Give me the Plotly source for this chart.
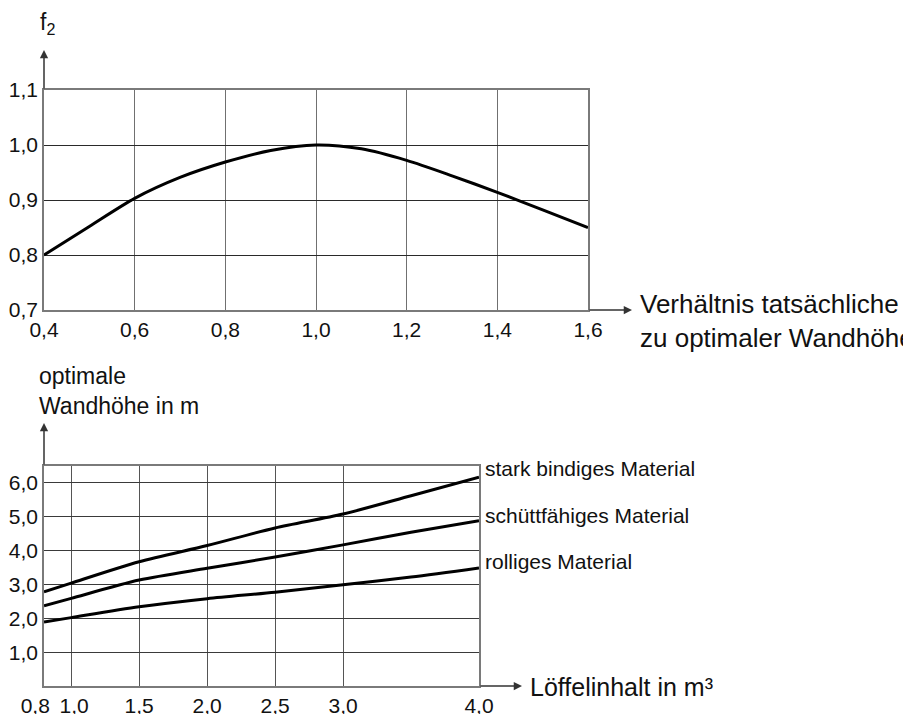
import plotly.graph_objects as go

# ---- data: top chart (f2 vs ratio of actual to optimal wall height)
ratio_x = [0.4, 0.5, 0.6, 0.7, 0.8, 0.9, 1.0, 1.1, 1.2, 1.3, 1.4, 1.5, 1.6]
f2_y = [0.80, 0.852, 0.903, 0.941, 0.969, 0.990, 1.000, 0.993, 0.972, 0.944, 0.914, 0.882, 0.850]
top_xticks = [0.4, 0.6, 0.8, 1.0, 1.2, 1.4, 1.6]
top_xlabels = ["0,4", "0,6", "0,8", "1,0", "1,2", "1,4", "1,6"]
top_yticks = [0.7, 0.8, 0.9, 1.0, 1.1]
top_ylabels = ["0,7", "0,8", "0,9", "1,0", "1,1"]

# ---- data: bottom chart (optimal wall height vs bucket volume)
bucket_x = [0.8, 1.0, 1.5, 2.0, 2.5, 3.0, 3.5, 4.0]
stark_bindig = [2.78, 3.04, 3.67, 4.15, 4.67, 5.08, 5.62, 6.17]
schuettfaehig = [2.37, 2.59, 3.13, 3.48, 3.81, 4.17, 4.54, 4.88]
rollig = [1.89, 2.02, 2.34, 2.58, 2.77, 2.99, 3.22, 3.49]
series_names = ["stark bindiges Material", "schüttfähiges Material", "rolliges Material"]
bot_xticks = [0.8, 1.0, 1.5, 2.0, 2.5, 3.0, 4.0]
bot_xlabels = ["0,8\u00a0\u00a0\u00a0", "\u00a01,0", "1,5", "2,0", "2,5", "3,0", "4,0"]
bot_yticks = [1, 2, 3, 4, 5, 6]
bot_ylabels = ["1,0", "2,0", "3,0", "4,0", "5,0", "6,0"]

OFF = 8  # page body margin
W, H = 911 - OFF, 714 - OFF
FONT = "Liberation Sans, Arial, Helvetica, sans-serif"

def px(x):
    return (x - OFF) / W

def py(y):
    return 1 - (y - OFF) / H

fig = go.Figure()

fig.add_trace(go.Scatter(x=ratio_x, y=f2_y, mode="lines",
                         line=dict(color="black", width=3, shape="spline", smoothing=0.8),
                         xaxis="x", yaxis="y", showlegend=False, hoverinfo="skip"))

for ys in (stark_bindig, schuettfaehig, rollig):
    fig.add_trace(go.Scatter(x=bucket_x, y=ys, mode="lines",
                             line=dict(color="black", width=3, shape="spline", smoothing=0.8),
                             xaxis="x2", yaxis="y2", showlegend=False, hoverinfo="skip"))

axis_common = dict(showline=True, linecolor="#7a7a7a", linewidth=1.5, mirror=True,
                   ticks="", zeroline=False, showgrid=True, gridwidth=1, automargin=False,
                   tickangle=0, tickfont=dict(family=FONT, size=21, color="#111"), fixedrange=True)

fig.update_layout(
    width=W, height=H,
    margin=dict(l=0, r=0, t=0, b=0, autoexpand=False),
    paper_bgcolor="white", plot_bgcolor="white",
    font=dict(family=FONT, size=21, color="#111"),
    xaxis=dict(domain=[px(44), px(588)], range=[0.4, 1.6], anchor="y",
               tickvals=top_xticks, ticktext=top_xlabels, gridcolor="#707070", **axis_common),
    yaxis=dict(domain=[py(310), py(90)], range=[0.7, 1.1], anchor="x",
               tickvals=top_yticks, ticktext=top_ylabels, gridcolor="#2a2a2a", **axis_common),
    xaxis2=dict(domain=[px(44), px(479)], range=[0.8, 4.0], anchor="y2",
                tickvals=bot_xticks, ticktext=bot_xlabels, gridcolor="#555555", **axis_common),
    yaxis2=dict(domain=[py(686), py(466)], range=[0, 6.5], anchor="x2",
                tickvals=bot_yticks, ticktext=bot_ylabels, gridcolor="#3a3a3a", **axis_common),
)

annotations = []

def arrow(tip_x, tip_y, ax, ay):
    annotations.append(dict(xref="paper", yref="paper", x=px(tip_x), y=py(tip_y),
                            ax=ax, ay=ay, text="", showarrow=True,
                            arrowhead=2, arrowsize=1.1, arrowwidth=1.5, arrowcolor="#333"))

# axis arrows
arrow(44, 50, 0, 40)      # top y
arrow(632, 310, -44, 0)   # top x
arrow(44, 423, 0, 43)     # bottom y
arrow(522, 686, -43, 0)   # bottom x

def text(t, x, y, size, anchor="left"):
    annotations.append(dict(xref="paper", yref="paper", x=px(x), y=py(y), text=t,
                            showarrow=False, xanchor=anchor, yanchor="middle",
                            align="left", font=dict(family=FONT, size=size, color="#111")))

text("f<sub>2</sub>", 38, 24, 23)
text("Verhältnis tatsächliche<br>zu optimaler Wandhöhe", 638, 321, 26)
text("optimale<br>Wandhöhe in m", 37, 391, 23)
text("Löffelinhalt in m³", 528, 687, 25)

# curve labels at the end of each line
label_y = [6.44, 5.05, 3.69]
for name, yv in zip(series_names, label_y):
    annotations.append(dict(xref="x2", yref="y2", x=4.0, y=yv, text=name, xshift=4,
                            showarrow=False, xanchor="left", yanchor="middle",
                            font=dict(family=FONT, size=21, color="#111")))

fig.update_layout(annotations=annotations)

fig.write_html("out.html")
